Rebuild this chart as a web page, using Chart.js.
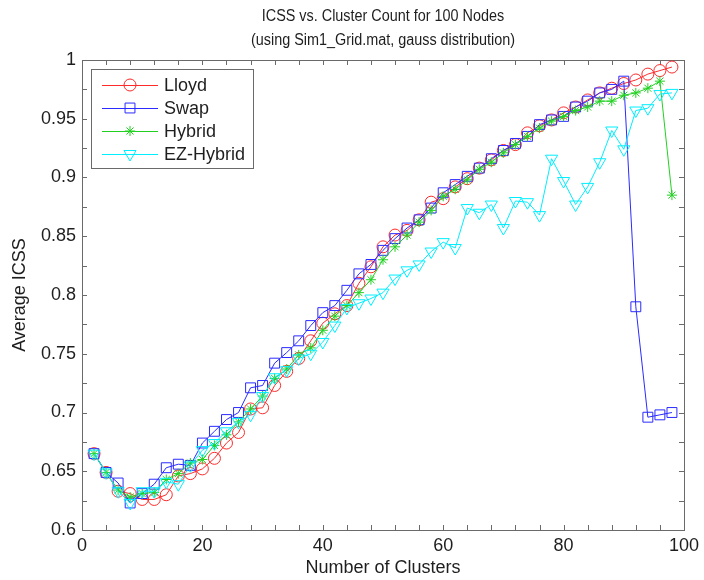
<html lang="en">
  <head>
    <meta charset="utf-8" />
    <title>ICSS vs. Cluster Count</title>
    <style type="text/css">
      * {
        padding: 0;
        margin: 0;
        box-sizing: border-box;
      }
      body {
        background: #ffffff;
        width: 704px;
        height: 580px;
        overflow: hidden;
      }
      #chart {
        display: block;
      }
    </style>
  </head>
  <body>
    <canvas id="chart" width="704" height="580"></canvas>
    <script src="https://cdn.jsdelivr.net/npm/chart.js@4/dist/chart.umd.min.js"></script>
    <script>
      // cluster counts (x) and average ICSS per method
      const clusters = [2, 4, 6, 8, 10, 12, 14, 16, 18, 20, 22, 24, 26, 28, 30, 32, 34, 36, 38, 40,
        42, 44, 46, 48, 50, 52, 54, 56, 58, 60, 62, 64, 66, 68, 70, 72, 74, 76, 78, 80,
        82, 84, 86, 88, 90, 92, 94, 96, 98];

      const lloyd = [0.665, 0.649, 0.633, 0.631, 0.626, 0.626, 0.630, 0.646, 0.648, 0.652,
        0.661, 0.674, 0.683, 0.703, 0.704, 0.723, 0.735, 0.746, 0.761, 0.776,
        0.784, 0.791, 0.810, 0.824, 0.841, 0.851, 0.855, 0.864, 0.879, 0.882,
        0.892, 0.899, 0.908, 0.915, 0.923, 0.928, 0.938, 0.944, 0.949, 0.955,
        0.960, 0.966, 0.972, 0.976, 0.980, 0.983, 0.988, 0.991, 0.994];

      const swap = [0.665, 0.649, 0.640, 0.623, 0.631, 0.639, 0.653, 0.656, 0.655, 0.674,
        0.684, 0.694, 0.700, 0.721, 0.723, 0.742, 0.751, 0.761, 0.774, 0.785,
        0.791, 0.804, 0.818, 0.826, 0.838, 0.848, 0.857, 0.864, 0.874, 0.887,
        0.894, 0.901, 0.908, 0.916, 0.923, 0.929, 0.935, 0.945, 0.949, 0.952,
        0.960, 0.965, 0.972, 0.975, 0.982, 0.790, 0.696, 0.698, 0.700];

      const hybrid = [0.665, 0.649, 0.634, 0.628, 0.631, 0.632, 0.643, 0.648, 0.657, 0.660,
        0.672, 0.681, 0.692, 0.703, 0.714, 0.729, 0.737, 0.749, 0.755, 0.770,
        0.782, 0.791, 0.802, 0.813, 0.830, 0.841, 0.851, 0.862, 0.872, 0.884,
        0.890, 0.898, 0.907, 0.913, 0.921, 0.928, 0.935, 0.942, 0.948, 0.952,
        0.957, 0.960, 0.965, 0.965, 0.970, 0.972, 0.976, 0.982, 0.885];

      const ezHybrid = [0.665, 0.649, 0.633, 0.623, 0.633, 0.633, 0.641, 0.639, 0.655, 0.668,
        0.674, 0.684, 0.692, 0.698, 0.714, 0.730, 0.736, 0.746, 0.750, 0.760,
        0.774, 0.789, 0.793, 0.797, 0.802, 0.814, 0.821, 0.826, 0.837, 0.845,
        0.840, 0.874, 0.870, 0.877, 0.857, 0.880, 0.879, 0.868, 0.916, 0.897,
        0.877, 0.892, 0.913, 0.940, 0.924, 0.957, 0.959, 0.971, 0.972];

      const seriesNames = ["Lloyd", "Swap", "Hybrid", "EZ-Hybrid"];
      const titleLines = ["ICSS vs. Cluster Count for 100 Nodes", "(using Sim1_Grid.mat, gauss distribution)"];

      const FONT = "'Liberation Sans', Arial, Helvetica, sans-serif";
      const TEXT_COLOR = "#1e1e1e";
      const AXIS_COLOR = "#6a6a6a";
      const colors = ["#ff2a2a", "#2a2aff", "#22d022", "#00eeff"];
      const markers = [
        { style: "circle", radius: 6, rotation: 0 },
        { style: "rect", radius: 7, rotation: 0 },
        { style: "star", radius: 5, rotation: 0 },
        { style: "triangle", radius: 7, rotation: 180 },
      ];

      const toPoints = (ys) => clusters.map((x, i) => ({ x: x, y: ys[i] }));
      const allSeries = [lloyd, swap, hybrid, ezHybrid];

      const datasets = allSeries.map((ys, i) => ({
        label: seriesNames[i],
        data: toPoints(ys),
        borderColor: colors[i],
        borderWidth: 1,
        pointStyle: markers[i].style,
        pointRadius: markers[i].radius,
        pointRotation: markers[i].rotation,
        pointBorderColor: colors[i],
        pointBackgroundColor: "rgba(0,0,0,0)",
        pointBorderWidth: 1,
        tension: 0,
        // first series drawn first, last one ends up on top
        order: allSeries.length - i,
      }));

      // small marker painter for the legend samples
      function drawMarker(ctx, style, x, y, r, color) {
        ctx.save();
        ctx.strokeStyle = color;
        ctx.lineWidth = 1;
        ctx.beginPath();
        if (style === "circle") {
          ctx.arc(x, y, r, 0, Math.PI * 2);
        } else if (style === "rect") {
          const s = r * Math.SQRT1_2;
          ctx.rect(x - s, y - s, 2 * s, 2 * s);
        } else if (style === "star") {
          for (let k = 0; k < 4; k++) {
            const a = (k * Math.PI) / 4;
            ctx.moveTo(x - Math.cos(a) * r, y - Math.sin(a) * r);
            ctx.lineTo(x + Math.cos(a) * r, y + Math.sin(a) * r);
          }
        } else if (style === "triangle") {
          // pointing down
          for (let k = 0; k < 3; k++) {
            const a = Math.PI + (k * 2 * Math.PI) / 3;
            const px = x + Math.sin(a) * r;
            const py = y - Math.cos(a) * r;
            if (k === 0) ctx.moveTo(px, py);
            else ctx.lineTo(px, py);
          }
          ctx.closePath();
        }
        ctx.stroke();
        ctx.restore();
      }

      // box around the axes plus inward tick marks on all four sides
      const axesBox = {
        id: "axesBox",
        beforeDatasetsDraw(chart) {
          const { ctx, chartArea: { left, right, top, bottom } } = chart;
          const xs = chart.scales.x;
          const ys = chart.scales.y;
          const len = 5;
          ctx.save();
          ctx.strokeStyle = AXIS_COLOR;
          ctx.lineWidth = 1;
          ctx.beginPath();
          for (let v = 0; v <= 100; v += 4) {
            const px = Math.round(xs.getPixelForValue(v)) + 0.5;
            ctx.moveTo(px, bottom);
            ctx.lineTo(px, bottom - len);
            ctx.moveTo(px, top);
            ctx.lineTo(px, top + len);
          }
          for (let k = 0; k <= 16; k++) {
            const py = Math.round(ys.getPixelForValue(0.6 + k * 0.025)) + 0.5;
            ctx.moveTo(left, py);
            ctx.lineTo(left + len, py);
            ctx.moveTo(right, py);
            ctx.lineTo(right - len, py);
          }
          ctx.stroke();
          ctx.strokeRect(Math.round(left) + 0.5, Math.round(top) + 0.5,
            Math.round(right - left), Math.round(bottom - top));
          ctx.restore();
        },
      };

      // two-line title centred over the axes, legend box in the top-left corner
      const overlay = {
        id: "overlay",
        afterDraw(chart) {
          const { ctx, chartArea } = chart;
          const cx = (chartArea.left + chartArea.right) / 2;
          ctx.save();
          ctx.fillStyle = TEXT_COLOR;
          ctx.font = "16px " + FONT;
          ctx.textAlign = "center";
          ctx.textBaseline = "middle";
          // the title face is a narrow one, squeeze it a little
          ctx.save();
          ctx.translate(cx, 0);
          ctx.scale(0.9, 1);
          ctx.fillText(titleLines[0], 0, 17);
          ctx.fillText(titleLines[1], 0, 41);
          ctx.restore();

          const bx = 91, by = 69, bw = 162, bh = 99;
          ctx.fillStyle = "#ffffff";
          ctx.fillRect(bx, by, bw, bh);
          ctx.strokeStyle = AXIS_COLOR;
          ctx.lineWidth = 1;
          ctx.strokeRect(bx + 0.5, by + 0.5, bw, bh);

          ctx.font = "18px " + FONT;
          ctx.textAlign = "left";
          seriesNames.forEach((name, i) => {
            const y = 85 + i * 23;
            ctx.strokeStyle = colors[i];
            ctx.beginPath();
            ctx.moveTo(102, y + 0.5);
            ctx.lineTo(158, y + 0.5);
            ctx.stroke();
            drawMarker(ctx, markers[i].style, 130, y, markers[i].radius, colors[i]);
            ctx.fillStyle = TEXT_COLOR;
            ctx.fillText(name, 164, y + 1);
          });
          ctx.restore();
        },
      };

      const tickFont = { family: FONT, size: 18 };
      const labelFont = { family: FONT, size: 18 };

      new Chart(document.getElementById("chart"), {
        type: "line",
        data: { datasets },
        plugins: [axesBox, overlay],
        options: {
          responsive: false,
          animation: false,
          devicePixelRatio: 1,
          layout: { padding: { top: 60, right: 18, left: 0, bottom: 0 } },
          plugins: {
            legend: { display: false },
            tooltip: { enabled: false },
            title: { display: false },
          },
          scales: {
            x: {
              type: "linear",
              min: 0,
              max: 100,
              grid: { display: false, drawTicks: false },
              border: { display: false },
              ticks: {
                stepSize: 20,
                padding: 5,
                color: TEXT_COLOR,
                font: tickFont,
                maxRotation: 0,
              },
              title: {
                display: true,
                text: "Number of Clusters",
                color: TEXT_COLOR,
                font: labelFont,
                padding: { top: 0, bottom: 1 },
              },
              afterFit(scale) {
                scale.height = 50;
              },
            },
            y: {
              min: 0.6,
              max: 1,
              grid: { display: false, drawTicks: false },
              border: { display: false },
              ticks: {
                stepSize: 0.05,
                padding: 6,
                color: TEXT_COLOR,
                font: tickFont,
                callback: (v) => String(Number(v.toFixed(3))),
              },
              title: {
                display: true,
                text: "Average ICSS",
                color: TEXT_COLOR,
                font: labelFont,
                padding: { top: 9, bottom: 0 },
              },
              afterFit(scale) {
                scale.width = 82;
              },
            },
          },
        },
      });
    </script>
  </body>
</html>
